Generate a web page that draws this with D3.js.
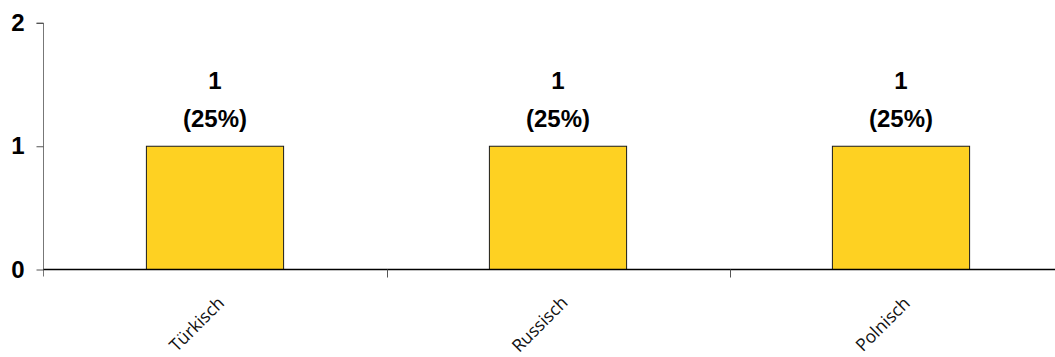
<!DOCTYPE html>
<html>
<head>
<meta charset="utf-8">
<script src="https://cdn.jsdelivr.net/npm/d3@7"></script>
<style>
  html, body { margin: 0; padding: 0; background: #fff; }
  svg { display: block; }
</style>
</head>
<body>
<svg id="chart" width="1055" height="357"></svg>
<script>
// Sprachen und Anzahl der Nennungen
const categories = ["Türkisch", "Russisch", "Polnisch"];
const counts = [1, 1, 1];
const percents = ["25%", "25%", "25%"];
const yTicks = [0, 1, 2];

const svg = d3.select("#chart");
const margin = { left: 43.5, top: 23 };
const plotRight = 1072.5;

const x = d3.scaleBand()
  .domain(categories)
  .range([margin.left, plotRight])
  .padding(0);

const y = d3.scaleLinear()
  .domain([0, 2])
  .range([269.5, margin.top]);

const barW = x.bandwidth() * 0.4;
const boldFont = "Liberation Sans, Arial, sans-serif";

// Balken
svg.append("g").selectAll("rect")
  .data(categories)
  .join("rect")
  .attr("x", d => x(d) + (x.bandwidth() - barW) / 2)
  .attr("y", (d, i) => y(counts[i]))
  .attr("width", barW)
  .attr("height", (d, i) => y(0) - y(counts[i]))
  .attr("fill", "#fed122")
  .attr("stroke", "#1a1a1a")
  .attr("stroke-width", 1);

// Y-Achse
const yAxis = svg.append("g")
  .attr("transform", `translate(${margin.left},0)`)
  .call(d3.axisLeft(y).tickValues(yTicks).tickFormat(d3.format("d")).tickSize(7).tickPadding(12));
yAxis.select(".domain").attr("stroke", "#777").attr("d", `M-7,${y(2)}H0V${y(0) + 7}`);
yAxis.selectAll(".tick line").attr("stroke", "#555");
yAxis.selectAll(".tick text")
  .attr("font-family", boldFont)
  .attr("font-weight", "bold")
  .attr("font-size", 24)
  .attr("fill", "#000");

// X-Achse
const xAxisG = svg.append("g");
xAxisG.append("line")
  .attr("x1", margin.left).attr("x2", plotRight)
  .attr("y1", y(0)).attr("y2", y(0))
  .attr("stroke", "#000").attr("stroke-width", 1.3);
xAxisG.selectAll("line.sep")
  .data(categories.slice(1))
  .join("line")
  .attr("class", "sep")
  .attr("x1", d => Math.round(x(d)) + 0.5).attr("x2", d => Math.round(x(d)) + 0.5)
  .attr("y1", y(0)).attr("y2", y(0) + 8)
  .attr("stroke", "#555");

// Kategorienbeschriftung (schräg, mittig unter dem Balken)
svg.append("g").selectAll("text")
  .data(categories)
  .join("text")
  .attr("transform", d => `translate(${x(d) + x.bandwidth() / 2 - 14},${y(0) + 59}) rotate(-45)`)
  .attr("text-anchor", "middle")
  .attr("font-family", "Open Sans, sans-serif")
  .attr("font-size", 17.5)
  .attr("fill", "#111")
  .text(d => d);

// Wertbeschriftung
const lab = svg.append("g").selectAll("g")
  .data(categories)
  .join("g")
  .attr("font-family", boldFont)
  .attr("font-weight", "bold")
  .attr("font-size", 24)
  .attr("text-anchor", "middle")
  .attr("fill", "#000");
lab.append("text")
  .attr("x", d => x(d) + x.bandwidth() / 2)
  .attr("y", (d, i) => y(counts[i]) - 57)
  .text((d, i) => counts[i]);
lab.append("text")
  .attr("x", d => x(d) + x.bandwidth() / 2)
  .attr("y", (d, i) => y(counts[i]) - 19)
  .text((d, i) => `(${percents[i]})`);
</script>
</body>
</html>
